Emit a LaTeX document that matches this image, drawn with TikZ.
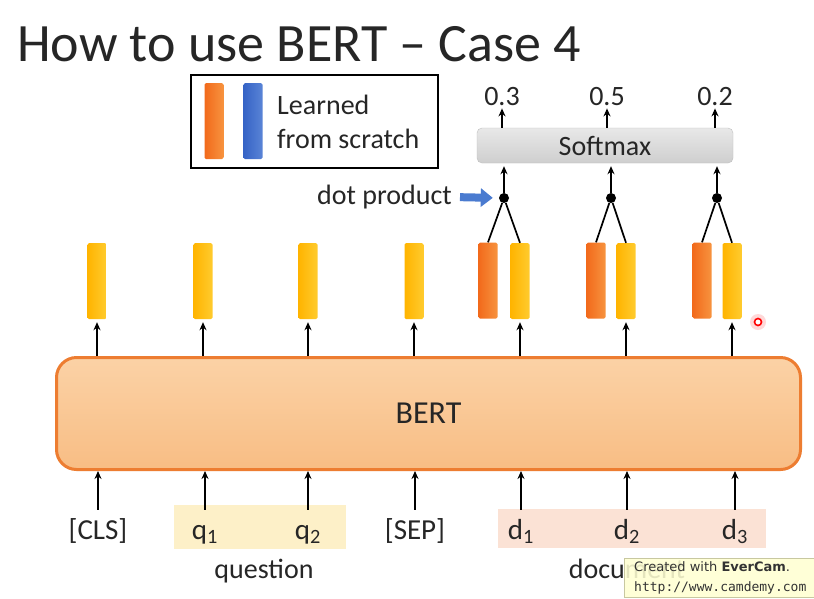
\documentclass[tikz,border=0pt]{standalone}
\usepackage{fontspec}
\setmainfont{Carlito}
\newfontfamily\stampfont{DejaVu Sans}
\newfontfamily\stampmono{DejaVu Sans Mono}
\usetikzlibrary{arrows.meta,calc,positioning}

\definecolor{bertline}{HTML}{ED7D31}
\definecolor{berttop}{HTML}{FBD2A6}
\definecolor{bertbot}{HTML}{F8BD84}
\definecolor{yelL}{HTML}{FFB400}
\definecolor{yelR}{HTML}{FFCB2E}
\definecolor{oraL}{HTML}{F26A1B}
\definecolor{oraR}{HTML}{F7933F}
\definecolor{bluL}{HTML}{3563C6}
\definecolor{bluR}{HTML}{5A84D6}
\definecolor{qshade}{HTML}{FDF0C8}
\definecolor{dshade}{HTML}{FBE2D5}
\definecolor{ptrblue}{HTML}{4A7BD0}
\definecolor{inktext}{HTML}{262626}
\definecolor{stampfill}{HTML}{FFFFD2}
\definecolor{stampline}{HTML}{C8C8A0}

\begin{document}
\begin{tikzpicture}[x=1pt,y=-1pt,>={Stealth[length=8pt,width=7pt]},
  txt/.style={font=\fontsize{28}{34}\selectfont,text=inktext,inner sep=0pt},
  vec/.style={minimum width=19pt,minimum height=76pt,inner sep=0pt,rounded corners=1.5pt},
  yvec/.style={vec,left color=yelL,right color=yelR},
  ovec/.style={vec,left color=oraL,right color=oraR},
  arr/.style={->,line width=1.9pt},
  link/.style={line width=1.7pt},
  dotp/.style={circle,fill=black,inner sep=0pt,minimum size=10pt},
  pointer/.style={ptrblue,line width=8pt,-{Triangle[length=12pt,width=18pt]}}]

  \useasboundingbox (0,0) rectangle (814,598);
  \fill[white] (0,0) rectangle (814,598);

  % title
  \node[anchor=base west,font=\fontsize{54}{62}\selectfont,text=inktext,inner sep=0pt]
    (title) at (17,61) {How to use BERT -- Case 4};

  % legend
  \node[draw,line width=2.5pt,minimum width=247pt,minimum height=93pt] (legend) at (314.5,121.5) {};
  \node[vec,left color=oraL,right color=oraR] (lego) at (214,121) {};
  \node[vec,left color=bluL,right color=bluR] (legb) at (253,121) {};
  \node[txt,anchor=north west,align=left] (legt) at (277,95) {Learned\\from scratch};

  % BERT block
  \node[draw=bertline,line width=3pt,rounded corners=20pt,top color=berttop,bottom color=bertbot,
    minimum width=744pt,minimum height=112pt,font=\fontsize{32}{38}\selectfont,text=inktext]
    (bert) at (428.5,413.5) {BERT};

  % output vectors
  \foreach \x [count=\i] in {97,203,308,414,520,626,732} {
    \node[yvec] (v\i) at (\x,281) {};
    \draw[arr,shorten >=3pt] (v\i.south |- bert.north) -- (v\i.south);
  }
  \foreach \x [count=\i from 5] in {488,596,702}
    \node[ovec] (o\i) at (\x,280.5) {};

  % softmax over dot products
  \node[txt,draw=gray!50,rounded corners=5pt,top color=gray!18,bottom color=gray!38,
    minimum width=256pt,minimum height=35pt] (soft) at (605,145.5) {Softmax};
  \foreach \x/\i in {504/5,611/6,717/7} {
    \node[dotp] (dot\i) at (\x,198) {};
    \draw[link] (dot\i) -- (o\i.north);
    \draw[link] (dot\i) -- (v\i.north);
    \draw[arr,shorten >=3pt] (dot\i) -- (dot\i |- soft.south);
  }
  \foreach \x/\p/\i in {502/0.3/5,607/0.5/6,715/0.2/7} {
    \node[txt] (p\i) at (\x,97) {\p};
    \draw[arr,shorten >=2pt] (p\i.south |- soft.north) -- (p\i.south);
  }
  \node[txt,anchor=east] (dp) at (452,197) {dot product};
  \draw[pointer,shorten <=8pt,shorten >=6pt] (dp.east) -- (dot5.west);

  % inputs
  \node[fill=qshade,minimum width=172pt,minimum height=44pt] (qbox) at (260,527) {};
  \node[fill=dshade,minimum width=268pt,minimum height=39pt] (dbox) at (632,528) {};
  \foreach \x/\t [count=\i] in {98/{[CLS]},205/{q\textsubscript{1}},308/{q\textsubscript{2}},
      415/{[SEP]},521/{d\textsubscript{1}},627/{d\textsubscript{2}},735/{d\textsubscript{3}}} {
    \node[txt,anchor=base,text height=21pt,text depth=7pt,font=\fontsize{29}{34}\selectfont]
      (in\i) at (\x,539) {\t};
    \draw[arr,shorten <=8pt] (in\i.north) -- (in\i.north |- bert.south);
  }
  \node[txt,anchor=base] (qlab) at (264,578) {question};
  \node[txt,anchor=base] (dlab) at (627,578) {document};

  % recorder marks
  \fill[red!30,opacity=0.5] (758,322) circle (8pt);
  \draw[red,line width=1.6pt,fill=white] (758,322) circle (3.5pt);
  \node[anchor=north west,draw=stampline,fill=stampfill,fill opacity=0.88,text opacity=1,
    align=left,inner xsep=10pt,inner ysep=3pt,text=black!80,
    font=\stampfont\fontsize{13}{20}\selectfont]
    (stamp) at (624,558) {Created with \textbf{EverCam}.\\{\stampmono http://www.camdemy.com}};
\end{tikzpicture}
\end{document}
